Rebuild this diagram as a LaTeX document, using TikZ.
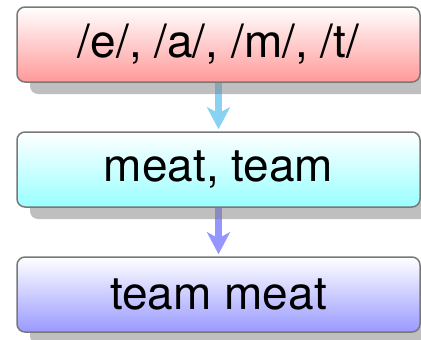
\documentclass[tikz,border=0pt]{standalone}
\usepackage{fontspec}
\setmainfont{TeX Gyre Heros}
\usetikzlibrary{shadows,arrows.meta,backgrounds}
\definecolor{arrowsky}{RGB}{138,210,244}
\definecolor{arrowlav}{RGB}{150,150,255}
\tikzset{
  stagebox/.style={draw={rgb,255:red,120;green,120;blue,120}, line width=1.5pt,
    rounded corners=8pt, minimum width=403pt, minimum height=75pt,
    inner sep=0pt, top color=white,
    font=\fontsize{46}{55}\selectfont,
    drop shadow={shadow xshift=13pt, shadow yshift=-12pt}},
  flowarrow/.style={line width=7.5pt, shorten >=2pt,
    -{Stealth[length=22pt, width=23pt, inset=6pt]}}
}
\begin{document}
\begin{tikzpicture}[x=1pt, y=-1pt]
  \useasboundingbox (0,0) rectangle (421,340);
  \node[stagebox, bottom color=red!40]  (sounds) at (218.5,44.5)  {/e/, /a/, /m/, /t/};
  \node[stagebox, bottom color=cyan!40] (words)  at (218.5,169.5) {meat, team};
  \node[stagebox, bottom color=blue!40] (phrase) at (218.5,294.5) {team meat};
  \begin{scope}[on background layer]
    \draw[flowarrow, arrowsky] (sounds.south) -- (words.north);
    \draw[flowarrow, arrowlav] (words.south) -- (phrase.north);
  \end{scope}
\end{tikzpicture}
\end{document}
